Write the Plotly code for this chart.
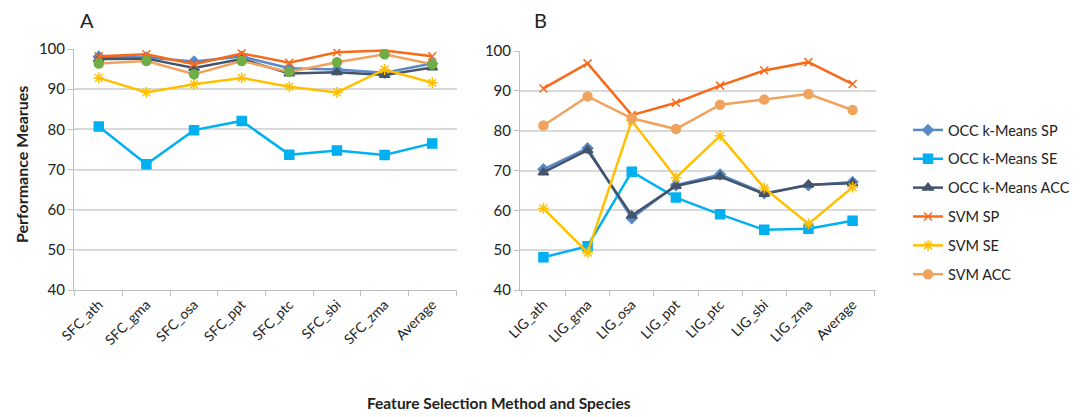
import plotly.graph_objects as go

cats_a = ["SFC_ath", "SFC_gma", "SFC_osa", "SFC_ppt", "SFC_ptc", "SFC_sbi", "SFC_zma", "Average"]
cats_b = ["LIG_ath", "LIG_gma", "LIG_osa", "LIG_ppt", "LIG_ptc", "LIG_sbi", "LIG_zma", "Average"]

series_names = ["OCC k-Means SP", "OCC k-Means SE", "OCC k-Means ACC", "SVM SP", "SVM SE", "SVM ACC"]

# Panel A values
a_occ_sp = [98.1, 97.9, 96.9, 98.1, 95.2, 94.9, 94.1, 96.4]
a_occ_se = [80.7, 71.3, 79.8, 82.1, 73.7, 74.7, 73.6, 76.5]
a_occ_acc = [97.5, 97.6, 95.3, 97.5, 93.9, 94.2, 93.5, 95.4]
a_svm_sp = [98.2, 98.7, 96.2, 98.9, 96.6, 99.2, 99.6, 98.2]
a_svm_se = [92.8, 89.2, 91.2, 92.8, 90.6, 89.2, 94.9, 91.6]
a_svm_acc = [96.4, 97.0, 93.7, 97.0, 94.3, 96.7, 98.7, 96.2]

# Panel B values
b_occ_sp = [70.3, 75.6, 58.0, 66.3, 69.0, 64.3, 66.3, 67.1]
b_occ_se = [48.2, 51.0, 69.7, 63.2, 59.0, 55.1, 55.4, 57.4]
b_occ_acc = [69.5, 75.1, 58.7, 66.1, 68.5, 64.1, 66.4, 66.8]
b_svm_sp = [90.6, 96.9, 83.9, 87.0, 91.3, 95.1, 97.2, 91.7]
b_svm_se = [60.5, 49.4, 82.5, 68.2, 78.7, 65.6, 56.6, 65.8]
b_svm_acc = [81.3, 88.6, 83.1, 80.4, 86.5, 87.8, 89.2, 85.2]

colors = ["#5A8AC6", "#00B0F0", "#44546A", "#F86A1A", "#FFC000", "#F0A35E"]
symbols = ["diamond", "square", "triangle-up", "x-thin-open", "asterisk-open", "circle"]
msizes = [8, 9, 9, 8, 9, 9]
acc_marker_a = "#70AD47"

FONT = "Lato, 'Open Sans', sans-serif"

fig = go.Figure()

a_data = [a_occ_sp, a_occ_se, a_occ_acc, a_svm_sp, a_svm_se, a_svm_acc]
b_data = [b_occ_sp, b_occ_se, b_occ_acc, b_svm_sp, b_svm_se, b_svm_acc]

for i, (name, vals) in enumerate(zip(series_names, a_data)):
    mcol = acc_marker_a if i == 5 else colors[i]
    fig.add_trace(go.Scatter(
        x=cats_a, y=vals, name=name, mode="lines+markers",
        line=dict(color=colors[i], width=2.5),
        marker=dict(symbol=symbols[i], size=msizes[i], color=mcol,
                    line=dict(color=mcol, width=1.5)),
        showlegend=False, xaxis="x", yaxis="y", legendgroup=name))

for i, (name, vals) in enumerate(zip(series_names, b_data)):
    fig.add_trace(go.Scatter(
        x=cats_b, y=vals, name=name, mode="lines+markers",
        line=dict(color=colors[i], width=2.5),
        marker=dict(symbol=symbols[i], size=msizes[i], color=colors[i],
                    line=dict(color=colors[i], width=1.5)),
        showlegend=True, xaxis="x2", yaxis="y2", legendgroup=name))

W, H = 1083, 417
ybot = 1 - 290 / H
ytop = 1 - 49 / H

xaxis_common = dict(
    type="category", showline=True, linecolor="#BFBFBF", linewidth=1,
    ticks="outside", tickson="boundaries", ticklen=5, tickcolor="#BFBFBF",
    tickangle=-45, tickfont=dict(family=FONT, size=14, color="#222"),
    showgrid=False, zeroline=False, fixedrange=True, automargin=False)
yaxis_common = dict(
    range=[40, 100], dtick=10, showline=True, linecolor="#BFBFBF", linewidth=1,
    ticks="outside", ticklen=5, tickcolor="#BFBFBF",
    tickfont=dict(family=FONT, size=15, color="#222"),
    showgrid=True, gridcolor="#D9D9D9", gridwidth=1.5, zeroline=False,
    fixedrange=True, automargin=False)

fig.update_layout(
    width=W, height=H,
    margin=dict(l=0, r=0, t=0, b=0),
    paper_bgcolor="white", plot_bgcolor="white",
    font=dict(family=FONT, color="#222"),
    xaxis=dict(domain=[74 / W, 457 / W], anchor="y", **xaxis_common),
    yaxis=dict(domain=[ybot, ytop], anchor="x", **yaxis_common),
    xaxis2=dict(domain=[520 / W, 876 / W], anchor="y2", **xaxis_common),
    yaxis2=dict(domain=[ybot, 1 - 51 / H], anchor="x2", **yaxis_common),
    legend=dict(x=908 / W, y=1 - 114 / H, xanchor="left", yanchor="top",
                font=dict(family=FONT, size=14.5, color="#222"),
                tracegroupgap=7, itemwidth=30, bgcolor="rgba(0,0,0,0)"),
    annotations=[
        dict(text="A", x=87 / W, y=1 - 20 / H, xref="paper", yref="paper",
             xanchor="center", yanchor="middle",
             showarrow=False, font=dict(family=FONT, size=20, color="#222")),
        dict(text="B", x=540 / W, y=1 - 20 / H, xref="paper", yref="paper",
             xanchor="center", yanchor="middle",
             showarrow=False, font=dict(family=FONT, size=20, color="#222")),
        dict(text="<b>Performance Mearues</b>", x=21 / W, y=1 - 165 / H,
             xref="paper", yref="paper", showarrow=False, textangle=-90,
             xanchor="center", yanchor="middle",
             font=dict(family=FONT, size=16, color="#222")),
        dict(text="<b>Feature Selection Method and Species</b>", x=499 / W, y=1 - 403 / H,
             xref="paper", yref="paper", showarrow=False,
             xanchor="center", yanchor="middle",
             font=dict(family=FONT, size=15.5, color="#222")),
    ],
)

fig.write_html("out.html")
